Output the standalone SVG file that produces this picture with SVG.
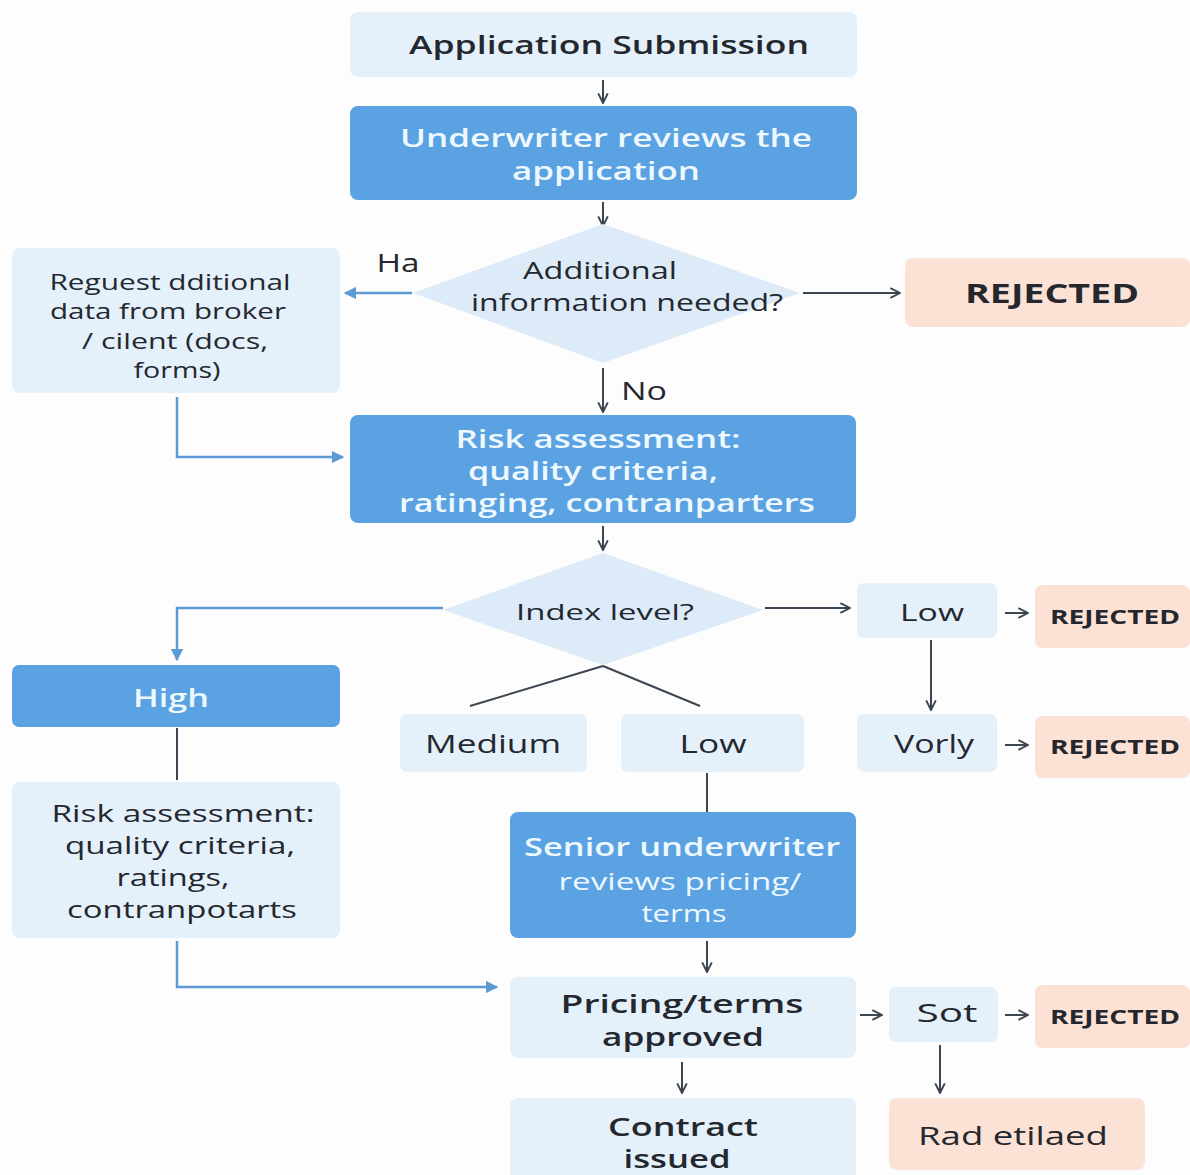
<svg xmlns="http://www.w3.org/2000/svg" width="1190" height="1175" viewBox="0 0 1190 1175">
<style>
.light{fill:#e4f1fb}
.blue{fill:#5aa2e2}
.dia{fill:#dcebf7}
.peach{fill:#fbe2d5}
text{font-family:"Open Sans","DejaVu Sans",sans-serif;text-anchor:middle;dominant-baseline:central}
.d{fill:#24282e;font-weight:500}
.w{fill:#eef8ff;font-weight:600}
.b{font-weight:700}
.s{font-weight:600}
.r{font-weight:400}
.ln{stroke:#3c4653;stroke-width:2;fill:none}
.bl{stroke:#5b9bd5;stroke-width:2.5;fill:none}
</style>
<defs>
<marker id="ad" viewBox="0 0 10 10" refX="9" refY="5" markerWidth="6" markerHeight="6" orient="auto"><path d="M1,1 L9,5 L1,9" fill="none" stroke="#3c4653" stroke-width="1.6"/></marker>
<marker id="ab" viewBox="0 0 10 10" refX="9" refY="5" markerWidth="5" markerHeight="5" orient="auto"><path d="M0,0 L10,5 L0,10 z" fill="#5b9bd5"/></marker>
</defs>
<rect width="1190" height="1175" fill="#fdfdfd"/>

<g id="connectors">
<line class="ln" x1="603" y1="80" x2="603" y2="103" marker-end="url(#ad)"/>
<line class="ln" x1="603" y1="202" x2="603" y2="226" marker-end="url(#ad)"/>
<line class="bl" x1="412" y1="293" x2="345" y2="293" marker-end="url(#ab)"/>
<line class="ln" x1="803" y1="293" x2="900" y2="293" marker-end="url(#ad)"/>
<line class="ln" x1="603" y1="368" x2="603" y2="412" marker-end="url(#ad)"/>
<polyline class="bl" points="177,397 177,457 343,457" marker-end="url(#ab)"/>
<line class="ln" x1="603" y1="526" x2="603" y2="550" marker-end="url(#ad)"/>
<polyline class="bl" points="443,608 177,608 177,660" marker-end="url(#ab)"/>
<line class="ln" x1="765" y1="608" x2="850" y2="608" marker-end="url(#ad)"/>
<line class="ln" x1="1005" y1="613" x2="1028" y2="613" marker-end="url(#ad)"/>
<line class="ln" x1="931" y1="640" x2="931" y2="710" marker-end="url(#ad)"/>
<line class="ln" x1="1005" y1="745" x2="1028" y2="745" marker-end="url(#ad)"/>
<line class="ln" x1="603" y1="666" x2="470" y2="706"/>
<line class="ln" x1="603" y1="666" x2="700" y2="706"/>
<line class="ln" x1="177" y1="728" x2="177" y2="780"/>
<line class="ln" x1="707" y1="773" x2="707" y2="812"/>
<polyline class="bl" points="177,941 177,987 497,987" marker-end="url(#ab)"/>
<line class="ln" x1="707" y1="941" x2="707" y2="972" marker-end="url(#ad)"/>
<line class="ln" x1="860" y1="1015" x2="882" y2="1015" marker-end="url(#ad)"/>
<line class="ln" x1="1005" y1="1015" x2="1028" y2="1015" marker-end="url(#ad)"/>
<line class="ln" x1="940" y1="1045" x2="940" y2="1093" marker-end="url(#ad)"/>
<line class="ln" x1="682" y1="1062" x2="682" y2="1093" marker-end="url(#ad)"/>
<text class="d" x="398" y="262" font-size="25" textLength="43" lengthAdjust="spacingAndGlyphs">Ha</text>
<text class="d" x="644" y="390" font-size="26" textLength="46" lengthAdjust="spacingAndGlyphs">No</text>
</g>

<g id="n-submission">
<rect class="light" x="350" y="12" width="507" height="65" rx="8"/>
<text class="d s" x="609" y="44" font-size="26" textLength="400" lengthAdjust="spacingAndGlyphs">Application Submission</text>
</g>
<g id="n-underwriter">
<rect class="blue" x="350" y="106" width="507" height="94" rx="8"/>
<text class="w" x="606" y="137" font-size="26" textLength="412" lengthAdjust="spacingAndGlyphs">Underwriter reviews the</text>
<text class="w" x="606" y="170" font-size="26" textLength="188" lengthAdjust="spacingAndGlyphs">application</text>
</g>
<g id="n-additional">
<polygon class="dia" points="603,224 800,293 603,363 413,293"/>
<text class="d" x="600" y="270" font-size="23" textLength="154" lengthAdjust="spacingAndGlyphs">Additional</text>
<text class="d" x="627" y="302" font-size="23" textLength="312" lengthAdjust="spacingAndGlyphs">information needed?</text>
</g>
<g id="n-request">
<rect class="light" x="12" y="248" width="328" height="145" rx="8"/>
<text class="d" x="170" y="281" font-size="22" textLength="241" lengthAdjust="spacingAndGlyphs">Reguest dditional</text>
<text class="d" x="168" y="310" font-size="22" textLength="236" lengthAdjust="spacingAndGlyphs">data from broker</text>
<text class="d" x="175" y="340" font-size="22" textLength="186" lengthAdjust="spacingAndGlyphs">/ cilent (docs,</text>
<text class="d" x="177" y="369" font-size="22" textLength="87" lengthAdjust="spacingAndGlyphs">forms)</text>
</g>
<g id="n-rejected1">
<rect class="peach" x="905" y="258" width="285" height="69" rx="8"/>
<text class="d b" x="1052" y="293" font-size="26" textLength="174" lengthAdjust="spacingAndGlyphs">REJECTED</text>
</g>
<g id="n-risk">
<rect class="blue" x="350" y="415" width="506" height="108" rx="8"/>
<text class="w" x="598" y="438" font-size="25" textLength="285" lengthAdjust="spacingAndGlyphs">Risk assessment:</text>
<text class="w" x="593" y="470" font-size="25" textLength="250" lengthAdjust="spacingAndGlyphs">quality criteria,</text>
<text class="w" x="607" y="502" font-size="25" textLength="416" lengthAdjust="spacingAndGlyphs">ratinging, contranparters</text>
</g>
<g id="n-index">
<polygon class="dia" points="603,553 763,610 603,665 443,610"/>
<text class="d r" x="605" y="611" font-size="22" textLength="178" lengthAdjust="spacingAndGlyphs">Index level?</text>
</g>
<g id="n-low1">
<rect class="light" x="857" y="583" width="140" height="55" rx="7"/>
<text class="d" x="932" y="611" font-size="24" textLength="64" lengthAdjust="spacingAndGlyphs">Low</text>
</g>
<g id="n-rejected2">
<rect class="peach" x="1035" y="585" width="155" height="63" rx="7"/>
<text class="d b" x="1115" y="617" font-size="19" textLength="130" lengthAdjust="spacingAndGlyphs">REJECTED</text>
</g>
<g id="n-high">
<rect class="blue" x="12" y="665" width="328" height="62" rx="7"/>
<text class="w" x="171" y="697" font-size="26" textLength="76" lengthAdjust="spacingAndGlyphs">High</text>
</g>
<g id="n-medium">
<rect class="light" x="400" y="714" width="187" height="58" rx="7"/>
<text class="d" x="493" y="743" font-size="25" textLength="136" lengthAdjust="spacingAndGlyphs">Medium</text>
</g>
<g id="n-low2">
<rect class="light" x="621" y="714" width="183" height="58" rx="7"/>
<text class="d" x="713" y="743" font-size="25" textLength="67" lengthAdjust="spacingAndGlyphs">Low</text>
</g>
<g id="n-vorly">
<rect class="light" x="857" y="714" width="140" height="58" rx="7"/>
<text class="d" x="934" y="743" font-size="25" textLength="80" lengthAdjust="spacingAndGlyphs">Vorly</text>
</g>
<g id="n-rejected3">
<rect class="peach" x="1035" y="716" width="155" height="62" rx="7"/>
<text class="d b" x="1115" y="747" font-size="19" textLength="130" lengthAdjust="spacingAndGlyphs">REJECTED</text>
</g>
<g id="n-risk2">
<rect class="light" x="12" y="782" width="328" height="156" rx="8"/>
<text class="d" x="183" y="812" font-size="24" textLength="263" lengthAdjust="spacingAndGlyphs">Risk assessment:</text>
<text class="d" x="180" y="844" font-size="24" textLength="230" lengthAdjust="spacingAndGlyphs">quality criteria,</text>
<text class="d" x="173" y="876" font-size="24" textLength="113" lengthAdjust="spacingAndGlyphs">ratings,</text>
<text class="d" x="182" y="908" font-size="24" textLength="230" lengthAdjust="spacingAndGlyphs">contranpotarts</text>
</g>
<g id="n-senior">
<rect class="blue" x="510" y="812" width="346" height="126" rx="8"/>
<text class="w" x="682" y="846" font-size="25" textLength="316" lengthAdjust="spacingAndGlyphs">Senior underwriter</text>
<text class="w r" x="680" y="881" font-size="23" textLength="243" lengthAdjust="spacingAndGlyphs">reviews pricing/</text>
<text class="w r" x="684" y="913" font-size="23" textLength="85" lengthAdjust="spacingAndGlyphs">terms</text>
</g>
<g id="n-pricing">
<rect class="light" x="510" y="977" width="346" height="81" rx="8"/>
<text class="d s" x="682" y="1003" font-size="25" textLength="243" lengthAdjust="spacingAndGlyphs">Pricing/terms</text>
<text class="d s" x="683" y="1036" font-size="25" textLength="162" lengthAdjust="spacingAndGlyphs">approved</text>
</g>
<g id="n-sot">
<rect class="light" x="889" y="987" width="109" height="55" rx="7"/>
<text class="d" x="947" y="1012" font-size="25" textLength="61" lengthAdjust="spacingAndGlyphs">Sot</text>
</g>
<g id="n-rejected4">
<rect class="peach" x="1035" y="985" width="155" height="63" rx="7"/>
<text class="d b" x="1115" y="1017" font-size="19" textLength="130" lengthAdjust="spacingAndGlyphs">REJECTED</text>
</g>
<g id="n-contract">
<rect class="light" x="510" y="1098" width="346" height="90" rx="8"/>
<text class="d s" x="683" y="1126" font-size="25" textLength="150" lengthAdjust="spacingAndGlyphs">Contract</text>
<text class="d s" x="677" y="1158" font-size="25" textLength="107" lengthAdjust="spacingAndGlyphs">issued</text>
</g>
<g id="n-rad">
<rect class="peach" x="889" y="1098" width="256" height="72" rx="8"/>
<text class="d" x="1013" y="1135" font-size="26" textLength="190" lengthAdjust="spacingAndGlyphs">Rad etilaed</text>
</g>
</svg>
